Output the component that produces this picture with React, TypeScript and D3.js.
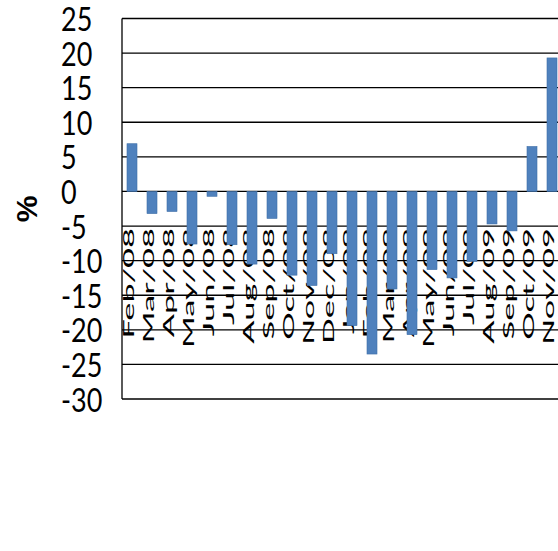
import React from "react";
import * as d3 from "d3";

const categories: string[] = [
  "Feb/08", "Mar/08", "Apr/08", "May/08", "Jun/08", "Jul/08", "Aug/08", "Sep/08",
  "Oct/08", "Nov/08", "Dec/08", "Jan/09", "Feb/09", "Mar/09", "Apr/09", "May/09",
  "Jun/09", "Jul/09", "Aug/09", "Sep/09", "Oct/09", "Nov/09",
];
const values: number[] = [
  6.9, -3.2, -2.9, -7.6, -0.7, -7.7, -10.5, -3.9,
  -12.1, -13.6, -9.0, -19.4, -23.5, -14.1, -20.7, -11.3,
  -12.5, -10.1, -4.7, -5.7, 6.5, 19.3,
];
const yTicks: number[] = [25, 20, 15, 10, 5, 0, -5, -10, -15, -20, -25, -30];
const yTitle = "%";

const W = 558;
const H = 551;
const left = 122;
const plotRight = 562;
const top = 18.5;
const bottom = 399;

export default function App() {
  const y = d3.scaleLinear().domain([-30, 25]).range([bottom, top]);
  const x = d3
    .scaleBand<string>()
    .domain(categories)
    .range([left, plotRight])
    .paddingInner(0.5)
    .paddingOuter(0.25);

  return (
    <svg
      width={W}
      height={H}
      style={{ position: "absolute", left: 0, top: 0, background: "#fff" }}
    >
      <rect x={0} y={0} width={W} height={H} fill="#fff" />
      {/* gridlines */}
      {yTicks.map((t) => (
        <line
          key={"g" + t}
          x1={left}
          x2={plotRight}
          y1={y(t)}
          y2={y(t)}
          stroke="#000"
          strokeWidth={1.3}
        />
      ))}
      <line x1={left} x2={left} y1={top} y2={bottom} stroke="#000" strokeWidth={1.3} />
      {/* y tick labels */}
      {yTicks.map((t) => (
        <text
          key={"t" + t}
          transform={`translate(61, ${y(t) + 12.5}) scale(0.9, 1.1)`}
          fontFamily="Lato, 'Open Sans', sans-serif"
          fontSize={30}
          fill="#000"
        >
          {t}
        </text>
      ))}
      {/* y title */}
      <text
        transform={`translate(37, 209) rotate(-90)`}
        textAnchor="middle"
        fontFamily="'Liberation Sans', Arial, sans-serif"
        fontWeight="bold"
        fontSize={30}
        fill="#000"
      >
        {yTitle}
      </text>
      {/* category labels */}
      {categories.map((c) => (
        <text
          key={"c" + c}
          transform={`translate(${(x(c) as number) + x.bandwidth() / 2 + 1.5}, 228) rotate(-90) scale(2.3, 1)`}
          textAnchor="end"
          fontFamily="Lato, 'Open Sans', sans-serif"
          fontSize={15}
          fill="#000"
        >
          {c}
        </text>
      ))}
      {/* bars */}
      {categories.map((c, i) => {
        const v = values[i];
        const y0 = y(0);
        const y1 = y(v);
        return (
          <rect
            key={"b" + c}
            x={x(c) as number}
            y={Math.min(y0, y1)}
            width={x.bandwidth()}
            height={Math.abs(y1 - y0)}
            fill="#4F81BD"
            stroke="#3F6FA8"
            strokeWidth={0.6}
          />
        );
      })}
    </svg>
  );
}
